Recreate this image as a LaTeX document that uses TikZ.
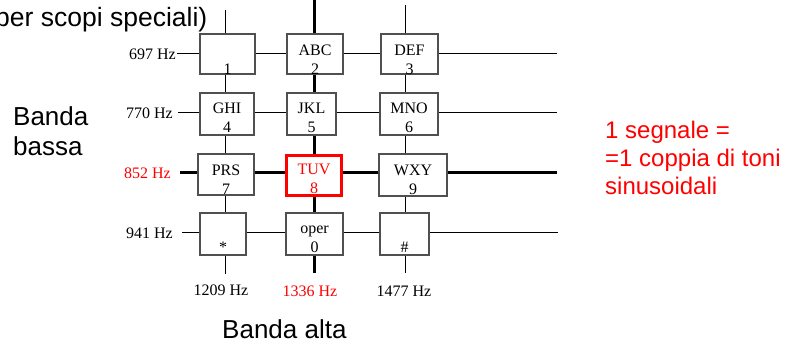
\documentclass[tikz,border=0pt]{standalone}
\usepackage{fontspec}
\setmainfont{Liberation Serif}
\newfontfamily\arialf{Liberation Sans}
\definecolor{boxgray}{HTML}{505050}
\begin{document}
\begin{tikzpicture}[x=1pt,y=-1pt,
  thinline/.style={line width=1pt, black},
  thickline/.style={line width=3pt, black},
  keybox/.style={draw=boxgray, line width=1.2pt, fill=white, inner sep=0pt},
  hotbox/.style={draw=red, line width=3pt, fill=white, inner sep=0pt},
  keytext/.style={font=\fontsize{16}{19.5}\selectfont, align=center, inner sep=0pt, anchor=north},
  freq/.style={font=\fontsize{16}{19}\selectfont, inner sep=0pt},
  big/.style={font=\arialf\fontsize{26}{30}\selectfont, inner sep=0pt, align=left},
  note/.style={font=\arialf\fontsize{24}{28}\selectfont, inner sep=0pt, align=left, text=red},
]
\useasboundingbox (0,0) rectangle (786,344);
\clip (0,0) rectangle (786,344);
% grid end points
\coordinate (c1t) at (225,10);  \coordinate (c1b) at (225,274);
\coordinate (c2t) at (314,-2);  \coordinate (c2b) at (314,273);
\coordinate (c3t) at (405,5);   \coordinate (c3b) at (405,273);
\coordinate (r1l) at (177,54);  \coordinate (r1r) at (557,54);
\coordinate (r2l) at (178,113); \coordinate (r2r) at (557,113);
\coordinate (r3l) at (180,173); \coordinate (r3r) at (557,173);
\coordinate (r4l) at (182,233); \coordinate (r4r) at (558,233);
\draw[thinline] (c1t) -- (c1b);
\draw[thickline] (c2t) -- (c2b);
\draw[thinline] (c3t) -- (c3b);
\draw[thinline] (r1l) -- (r1r);
\draw[thinline] (r2l) -- (r2r);
\draw[thickline] (r3l) -- (r3r);
\draw[thinline] (r4l) -- (r4r);
% keys
\node[keybox, minimum width=55pt, minimum height=40pt] (k1) at (227.5,54) {};
\node[keybox, minimum width=56pt, minimum height=40pt] (k2) at (315,54) {};
\node[keybox, minimum width=57pt, minimum height=40pt] (k3) at (409.5,54) {};
\node[keybox, minimum width=54pt, minimum height=42pt] (k4) at (227,114) {};
\node[keybox, minimum width=49pt, minimum height=42pt] (k5) at (311.5,114) {};
\node[keybox, minimum width=58pt, minimum height=42pt] (k6) at (409,114) {};
\node[keybox, minimum width=56pt, minimum height=41pt] (k7) at (226,174.5) {};
\node[hotbox, minimum width=55pt, minimum height=40pt] (k8) at (314,175.5) {};
\node[keybox, minimum width=68pt, minimum height=42pt] (k9) at (413,175) {};
\node[keybox, minimum width=46pt, minimum height=42pt] (ks) at (223,234) {};
\node[keybox, minimum width=57pt, minimum height=42pt] (k0) at (314.5,234) {};
\node[keybox, minimum width=49pt, minimum height=42pt] (kh) at (404.5,234) {};
% key texts
\node[keytext] (t1) at ([yshift=-8pt]k1.north) {\strut\\1};
\node[keytext] (t2) at ([yshift=-8pt]k2.north) {\strut ABC\\2};
\node[keytext] (t3) at ([yshift=-8pt]k3.north) {\strut DEF\\3};
\node[keytext] (t4) at ([yshift=-7pt]k4.north) {\strut GHI\\4};
\node[keytext] (t5) at ([yshift=-7pt]k5.north) {\strut JKL\\5};
\node[keytext] (t6) at ([yshift=-7pt]k6.north) {\strut MNO\\6};
\node[keytext] (t7) at ([yshift=-8pt]k7.north) {\strut PRS\\7};
\node[keytext, text=red] (t8) at ([yshift=-6.5pt]k8.north) {\strut TUV\\8};
\node[keytext] (t9) at ([yshift=-8pt]k9.north) {\strut WXY\\9};
\node[keytext] (ts) at ([yshift=-7pt]ks.north) {\strut\\*};
\node[keytext] (t0) at ([yshift=-7pt]k0.north) {\strut oper\\0};
\node[keytext] (th) at ([yshift=-7pt]kh.north) {\strut\\\#};
% frequency labels
\node[freq, anchor=east] (f697) at (176,54) {697 Hz};
\node[freq, anchor=east] (f770) at (173,113) {770 Hz};
\node[freq, anchor=east, text=red] (f852) at (171,173) {852 Hz};
\node[freq, anchor=east] (f941) at (173,233) {941 Hz};
\node[freq, anchor=base] (f1209) at (221,295) {1209 Hz};
\node[freq, anchor=base, text=red] (f1336) at (310,296) {1336 Hz};
\node[freq, anchor=base] (f1477) at (404,297) {1477 Hz};
% big texts
\node[big, anchor=base east, font=\arialf\fontsize{26.5}{30}\selectfont] (special) at (207.5,27) {per scopi speciali)};
\node[big, anchor=north west] (bassa) at (13,104) {\strut Banda\\bassa};
\node[big, anchor=base west] (alta) at (222,338) {Banda alta};
\node[note, anchor=north west] (segn) at (605,118.4) {\strut 1 segnale =\\=1 coppia di toni\\sinusoidali};
\end{tikzpicture}
\end{document}
